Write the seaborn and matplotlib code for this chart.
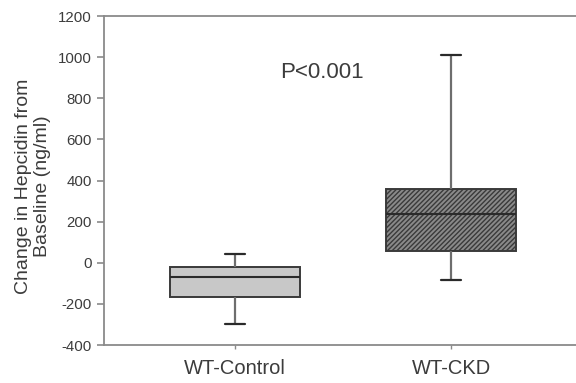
import matplotlib
matplotlib.use("Agg")
import matplotlib.pyplot as plt
import seaborn as sns
import pandas as pd
import numpy as np

# Five-number summaries: min, Q1, median, Q3, max
groups = ["WT-Control", "WT-CKD"]
control_vals = [-298, -167, -70, -21, 42]
ckd_vals = [-84, 57, 237, 359, 1010]
yticks = [-400, -200, 0, 200, 400, 600, 800, 1000, 1200]
annotation = "P<0.001"

df = pd.DataFrame({
    "group": [groups[0]] * len(control_vals) + [groups[1]] * len(ckd_vals),
    "value": control_vals + ckd_vals,
})

sns.set_style("white")
plt.rcParams["font.family"] = ["Liberation Sans", "DejaVu Sans"]
plt.rcParams["hatch.linewidth"] = 1.0
plt.rcParams["hatch.color"] = "#222222"

fig = plt.figure(figsize=(5.76, 3.83), dpi=100)
ax = fig.add_axes([0.1806, 0.099, 0.8194, 0.859])

text_col = "#3c3c3c"
edge_col = "#3a3a3a"

sns.boxplot(
    data=df, x="group", y="value", order=groups,
    palette=["#c8c8c8", "#8a8a8a"], hue="group", legend=False,
    width=0.6, whis=(0, 100), showfliers=False, ax=ax,
    capwidths=0.095,
    boxprops=dict(edgecolor=edge_col, linewidth=1.4),
    medianprops=dict(color="#2a2a2a", linewidth=1.5),
    whiskerprops=dict(color="#6e6e6e", linewidth=1.6),
    capprops=dict(color="#2a2a2a", linewidth=1.6),
)

# hatch the CKD box
patches = [p for p in ax.patches]
if len(patches) >= 2:
    patches[1].set_hatch("///////")

ax.set_ylim(-400, 1200)
ax.set_xlim(-0.607, 1.578)
ax.set_yticks(yticks)
ax.set_yticklabels([str(t) for t in yticks], fontsize=10.8, color=text_col)
ax.set_xticks([0, 1])
ax.set_xticklabels(groups, fontsize=14.5, color=text_col)
ax.set_xlabel("")
ax.set_ylabel("Change in Hepcidin from\nBaseline (ng/ml)", fontsize=14,
              color=text_col, linespacing=1.2)
ax.yaxis.set_label_coords(-0.112, 0.483)

for s in ["left", "bottom", "top"]:
    ax.spines[s].set_visible(True)
    ax.spines[s].set_color("#8a8a8a")
    ax.spines[s].set_linewidth(1.3)
ax.spines["right"].set_visible(False)

ax.tick_params(axis="y", which="both", direction="out", length=5, width=1.2,
               color="#8a8a8a", left=True, pad=4)
ax.tick_params(axis="x", which="both", direction="out", length=3, width=1.0,
               color="#8a8a8a", bottom=True, pad=7)

ax.text(0.40, 928, annotation, fontsize=16, color=text_col,
        ha="center", va="center")

fig.savefig("out.png", dpi=100)
